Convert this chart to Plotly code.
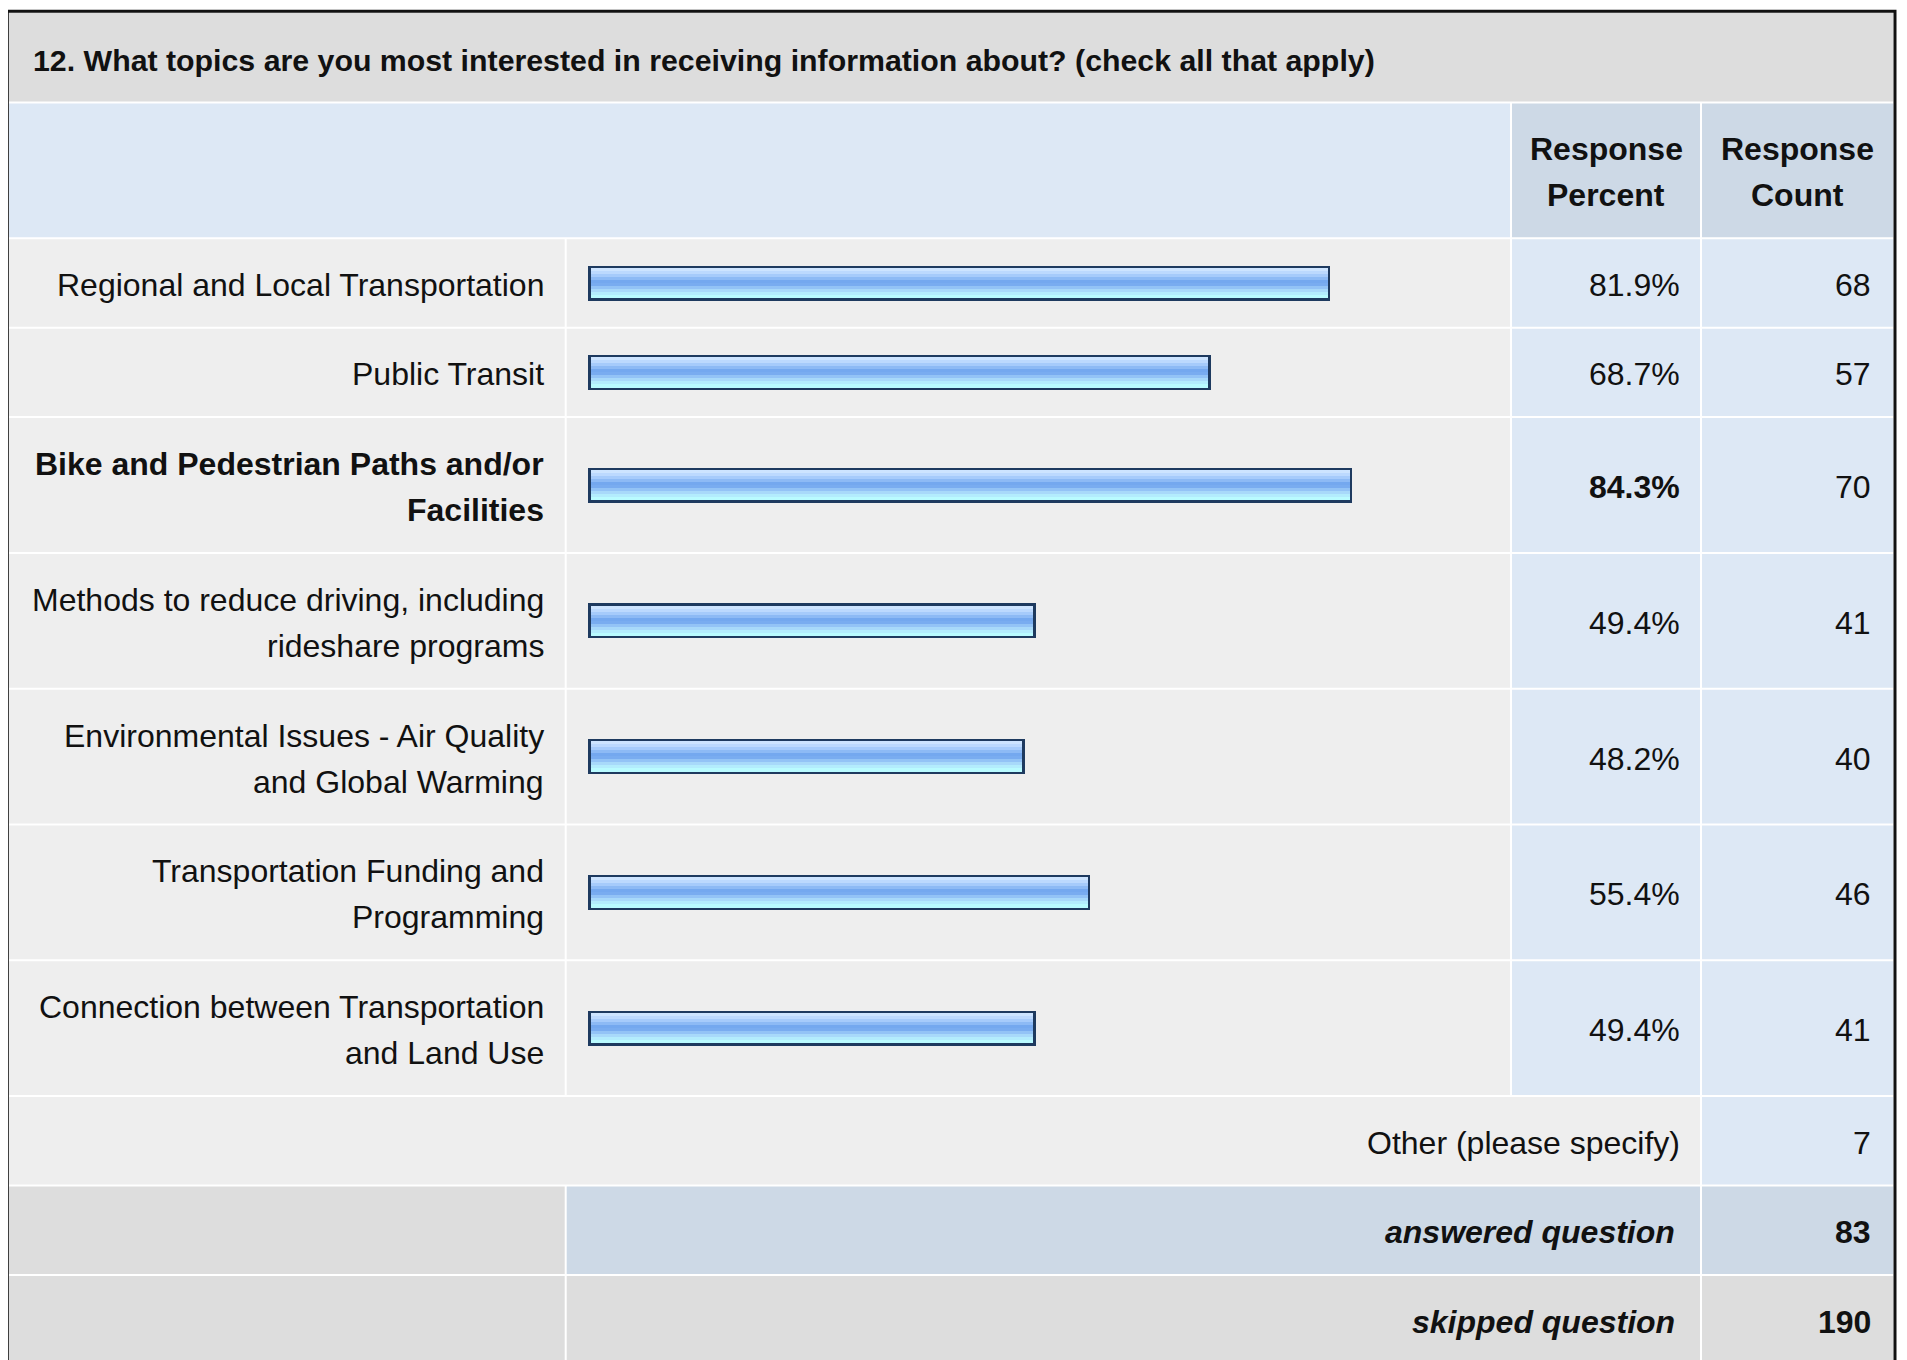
import plotly.graph_objects as go

# ---------------- data ----------------
title = "12. What topics are you most interested in receiving information about? (check all that apply)"
header_cols = ["Response<br>Percent", "Response<br>Count"]
categories = [
    "Regional and Local Transportation",
    "Public Transit",
    "Bike and Pedestrian Paths and/or<br>Facilities",
    "Methods to reduce driving, including<br>rideshare programs",
    "Environmental Issues - Air Quality<br>and Global Warming",
    "Transportation Funding and<br>Programming",
    "Connection between Transportation<br>and Land Use",
]
percents = [81.9, 68.7, 84.3, 49.4, 48.2, 55.4, 49.4]
counts = [68, 57, 70, 41, 40, 46, 41]
other_label = "Other (please specify)"
other_count = 7
answered_label = "answered question"
answered_count = 83
skipped_label = "skipped question"
skipped_count = 190

# ---------------- styling / layout ----------------
W, H = 1907, 1360          # page viewport
OFF = 8                    # default page body margin
FW, FH = W - OFF, H - OFF  # figure size so it ends at the viewport edge
FONT = "Liberation Sans, Arial, Helvetica, sans-serif"
FS = 32
FS_T = 30.3
TXT = "#111111"
C_TITLE = "#dddddd"
C_HDR_L = "#dde8f5"
C_HDR_D = "#cdd9e6"
C_GRAY = "#eeeeee"
C_BLUE = "#dde8f5"
C_SUM_D = "#cdd9e6"
C_SKIP = "#dddddd"
BORDER = "#1e3a5f"
STRIPS = ["#cde4ff", "#bcd9fe", "#a6cbfb", "#8dbaf5", "#74a8ef", "#79acf0",
          "#93c3f6", "#a8d9fa", "#b3ecfd", "#b9fbff"]

X_L, X_R = 8.8, 1893.3
S1, S2, S3 = 565.7, 1511.0, 1701.0
G = 1.0
TOP = 12.8
LINE_H = 46.0
TY = 2.0                   # text vertical nudge
X_LAB, X_PCT, X_CNT, X_SUM = 545.5, 1682, 1873, 1677
BAR_X0, BAR_X100 = 588.0, 1494.3
BAR_H = 35.0
BAR_BORDER = 2.5


def n_lines(s):
    return s.count("<br>") + 1


def pitch(lines):
    return 43.0 + 46.4 * lines


shapes = []
annotations = []


def rect(x0, x1, y0, y1, color):
    shapes.append(dict(type="rect", xref="x", yref="y", x0=x0, x1=x1, y0=y0, y1=y1,
                       fillcolor=color, line=dict(width=0), layer="below"))


def text(x, yc, s, anchor="right", bold=False, italic=False):
    lines = s.split("<br>")
    n = len(lines)
    for i, ln in enumerate(lines):
        t = ln
        if italic:
            t = "<i>" + t + "</i>"
        if bold:
            t = "<b>" + t + "</b>"
        annotations.append(dict(xref="x", yref="y", x=x,
                                y=yc + TY + (i - (n - 1) / 2) * LINE_H,
                                text=t, showarrow=False, xanchor=anchor, yanchor="middle",
                                font=dict(family=FONT, size=FS, color=TXT)))


# title row
y0 = TOP
y1 = y0 + 89.7
rect(X_L, X_R, y0, y1 - G, C_TITLE)
annotations.append(dict(xref="x", yref="y", x=31, y=(y0 + y1) / 2 + 2.5,
                        text="<b>" + title + "</b>", showarrow=False, xanchor="left",
                        yanchor="middle", font=dict(family=FONT, size=FS_T, color=TXT)))

# header row
y0 = y1
y1 = y0 + pitch(2)
rect(X_L, S2 - G, y0 + G, y1 - G, C_HDR_L)
rect(S2 + G, S3 - G, y0 + G, y1 - G, C_HDR_D)
rect(S3 + G, X_R, y0 + G, y1 - G, C_HDR_D)
yc = (y0 + y1) / 2
text((S2 + S3) / 2, yc, header_cols[0], anchor="center", bold=True)
text((S3 + X_R) / 2, yc, header_cols[1], anchor="center", bold=True)

# data rows
bold_idx = percents.index(max(percents))
row_centers = []
for i, (lab, p, c) in enumerate(zip(categories, percents, counts)):
    y0 = y1
    y1 = y0 + pitch(n_lines(lab))
    rect(X_L, S1 - G, y0 + G, y1 - G, C_GRAY)
    rect(S1 + G, S2 - G, y0 + G, y1 - G, C_GRAY)
    rect(S2 + G, S3 - G, y0 + G, y1 - G, C_BLUE)
    rect(S3 + G, X_R, y0 + G, y1 - G, C_BLUE)
    yc = (y0 + y1) / 2
    row_centers.append(yc)
    b = (i == bold_idx)
    text(X_LAB, yc, lab, bold=b)
    text(X_PCT, yc, f"{p:.1f}%", bold=b)
    text(X_CNT, yc, str(c))

# other row
y0 = y1
y1 = y0 + pitch(1)
rect(X_L, S3 - G, y0 + G, y1 - G, C_GRAY)
rect(S3 + G, X_R, y0 + G, y1 - G, C_BLUE)
yc = (y0 + y1) / 2
text(X_PCT, yc, other_label)
text(X_CNT, yc, str(other_count))

# answered row
y0 = y1
y1 = y0 + pitch(1)
rect(X_L, S1 - G, y0 + G, y1 - G, C_SKIP)
rect(S1 + G, S3 - G, y0 + G, y1 - G, C_SUM_D)
rect(S3 + G, X_R, y0 + G, y1 - G, C_SUM_D)
yc = (y0 + y1) / 2
text(X_SUM, yc, answered_label, bold=True, italic=True)
text(X_CNT, yc, str(answered_count), bold=True)

# skipped row
y0 = y1
y1 = y0 + pitch(1)
rect(X_L, S1 - G, y0 + G, y1 + 40, C_SKIP)
rect(S1 + G, S3 - G, y0 + G, y1 + 40, C_SKIP)
rect(S3 + G, X_R, y0 + G, y1 + 40, C_SKIP)
yc = (y0 + y1) / 2
text(X_SUM, yc, skipped_label, bold=True, italic=True)
text(X_CNT, yc, str(skipped_count), bold=True)

# outer border
shapes.append(dict(type="rect", xref="x", yref="y", x0=7.3, x1=1895.0, y0=11.3, y1=y1 + 60,
                   fillcolor="rgba(0,0,0,0)", line=dict(color="#111111", width=3), layer="above"))

# ---------------- figure ----------------
fig = go.Figure()
# invisible anchor trace for the page-pixel subplot
fig.add_trace(go.Scatter(x=[OFF, W], y=[OFF, H], mode="markers", marker=dict(opacity=0),
                         hoverinfo="skip", showlegend=False, xaxis="x", yaxis="y"))

unit = 100.0 / (BAR_X100 - BAR_X0)  # x-units per pixel
ins = BAR_BORDER * unit
# outer (border) bar
fig.add_trace(go.Bar(orientation="h", x=percents, y=row_centers, base=0, width=BAR_H,
                     marker=dict(color=BORDER, line=dict(width=0)), xaxis="x2", yaxis="y",
                     showlegend=False, hoverinfo="skip"))
inner_h = BAR_H - 2 * BAR_BORDER
sh = inner_h / len(STRIPS)
for k, col in enumerate(STRIPS):
    off = -inner_h / 2 + sh * (k + 0.5)
    fig.add_trace(go.Bar(orientation="h", x=[p - 2 * ins for p in percents],
                         y=[c + off for c in row_centers], base=ins, width=sh + 0.4,
                         marker=dict(color=col, line=dict(width=0)), xaxis="x2", yaxis="y",
                         showlegend=False, hoverinfo="skip"))

fig.update_layout(
    width=FW, height=FH,
    margin=dict(l=0, r=0, t=0, b=0),
    paper_bgcolor="white", plot_bgcolor="rgba(0,0,0,0)",
    barmode="overlay", bargap=0,
    showlegend=False, hovermode=False,
    xaxis=dict(range=[OFF, W], domain=[0, 1], visible=False, fixedrange=True),
    xaxis2=dict(range=[0, 100], domain=[(BAR_X0 - OFF) / FW, (BAR_X100 - OFF) / FW],
                anchor="y", visible=False, fixedrange=True),
    yaxis=dict(range=[H, OFF], domain=[0, 1], visible=False, fixedrange=True),
    shapes=shapes,
    annotations=annotations,
)

fig.write_html("out.html")
